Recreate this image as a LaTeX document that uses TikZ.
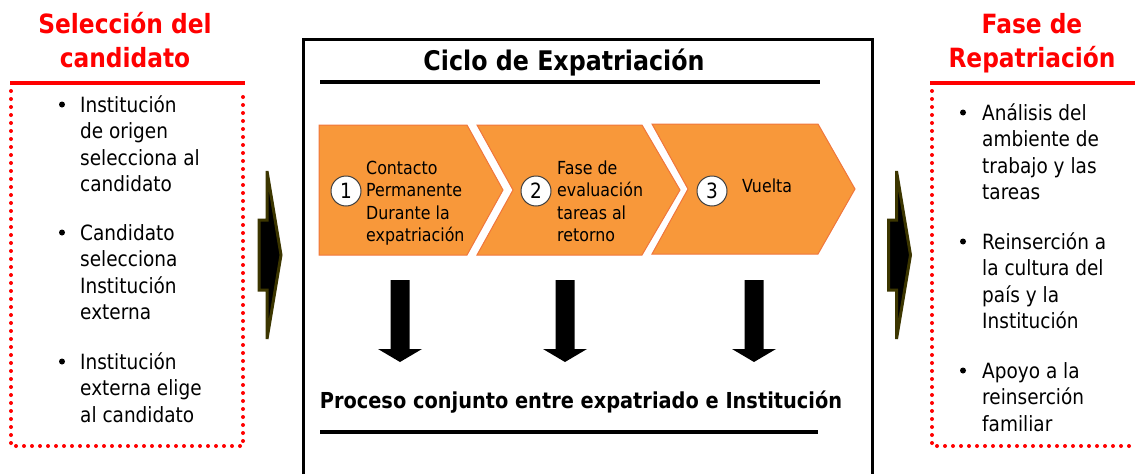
\documentclass[tikz,border=0pt]{standalone}
\usepackage{fontspec}
\setmainfont{DejaVu Sans}[FakeStretch=0.88]
\definecolor{headred}{RGB}{255,0,0}
\definecolor{steporange}{RGB}{248,152,58}
\definecolor{stepedge}{RGB}{240,118,60}
\definecolor{arrowolive}{RGB}{60,54,0}
\begin{document}
\begin{tikzpicture}[x=1pt,y=-1pt,
	heading/.style={text=headred, align=center, anchor=base, font=\fontsize{26.5}{34}\selectfont\bfseries},
	boxtitle/.style={anchor=base, inner sep=0pt, font=\fontsize{27}{30}\selectfont\bfseries},
	itembox/.style={anchor=base west, align=left, inner sep=0pt, font=\fontsize{21}{26.5}\selectfont},
	bulletdot/.style={circle, fill=black, inner sep=0pt, minimum size=6pt},
	stepshape/.style={fill=steporange, draw=stepedge, line width=1pt, line join=miter},
	stepnum/.style={circle, draw=black!75, fill=white, line width=1pt, minimum size=30pt, inner sep=0pt, font=\fontsize{21}{21}\selectfont},
	steptext/.style={anchor=base west, align=left, inner sep=0pt, font=\fontsize{18}{22.5}\selectfont},
	sidearrow/.style={fill=black, draw=arrowolive, line width=3pt, line join=miter},
	redrule/.style={draw=headred, line width=4pt},
	reddots/.style={draw=headred, line width=4pt, line cap=round, dash pattern=on 0pt off 8pt},
	blackrule/.style={draw=black, line width=4pt}]
	\useasboundingbox (0,0) rectangle (1135,474);

	% left column (node base = baseline of the last line)
	\node (selhead) at (125,67)	[heading]	{Selección del\\candidato};
	\draw[redrule] (10,83) -- (245,83);
	\draw[reddots] (11,91) -- (11,446) -- (243,446) -- (243,91);
	\node (sel1) at (80,191.5)	[itembox]	{Institución\\de origen\\selecciona al\\candidato};
	\node (sel2) at (80,319.5)	[itembox]	{Candidato\\selecciona\\Institución\\externa};
	\node (sel3) at (80,422)	[itembox]	{Institución\\externa elige\\al candidato};
	\node (selb1) at (62,104.5)	[bulletdot]	{};
	\node (selb2) at (62,232.5)	[bulletdot]	{};
	\node (selb3) at (62,361.5)	[bulletdot]	{};

	% right column
	\node (rephead) at (1032,67)	[heading]	{Fase de\\Repatriación};
	\draw[redrule] (930,83) -- (1135,83);
	\draw[reddots] (932,91) -- (932,446) -- (1135,446);
	\node (rep1) at (982,199.5)	[itembox]	{Análisis del\\ambiente de\\trabajo y las\\tareas};
	\node (rep2) at (982,328.5)	[itembox]	{Reinserción a\\la cultura del\\país y la\\Institución};
	\node (rep3) at (982,431)	[itembox]	{Apoyo a la\\reinserción\\familiar};
	\node (repb1) at (963,112.5)	[bulletdot]	{};
	\node (repb2) at (963,241.5)	[bulletdot]	{};
	\node (repb3) at (963,370.5)	[bulletdot]	{};

	% arrows between the columns
	\foreach \sx in {0,629.5}
		\draw[sidearrow, xshift=\sx] (267,171) -- (281,255) -- (267,339) -- (267,290) -- (259,290) -- (259,220) -- (267,220) -- cycle;

	% centre frame
	\draw[line width=3pt] (303,474) -- (303,39) -- (872,39) -- (872,474);
	\node (cyclehead) at (564,70)	[boxtitle]	{Ciclo de Expatriación};
	\draw[blackrule] (320,82) -- (820,82);

	% the three steps
	\draw[stepshape] (319,125) -- (467,125) -- (503,190) -- (467,255) -- (319,255) -- cycle;
	\draw[stepshape] (477,125) -- (642,125) -- (680,190) -- (642,255) -- (477,255) -- (513,190) -- cycle;
	\draw[stepshape] (652,124) -- (818,124) -- (855,189) -- (818,254) -- (652,254) -- (688,189) -- cycle;
	\node (num1) at (346,191)	[stepnum]	{1};
	\node (num2) at (536,191)	[stepnum]	{2};
	\node (num3) at (712,191)	[stepnum]	{3};
	\node (step1) at (366,241.5)	[steptext]	{Contacto\\Permanente\\Durante la\\expatriación};
	\node (step2) at (557,241.5)	[steptext]	{Fase de\\evaluación\\tareas al\\retorno};
	\node (step3) at (742,192)	[steptext]	{Vuelta};

	% down arrows
	\foreach \ax in {400,565,754}
		\fill (\ax-9.5,280) -- (\ax+9.5,280) -- (\ax+9.5,349) -- (\ax+22,349) -- (\ax,362) -- (\ax-22,349) -- (\ax-9.5,349) -- cycle;

	\node (joint) at (581,408)	[boxtitle, font=\fontsize{22}{26}\selectfont\bfseries]	{Proceso conjunto entre expatriado e Institución};
	\draw[blackrule] (320,432) -- (818,432);
\end{tikzpicture}
\end{document}
